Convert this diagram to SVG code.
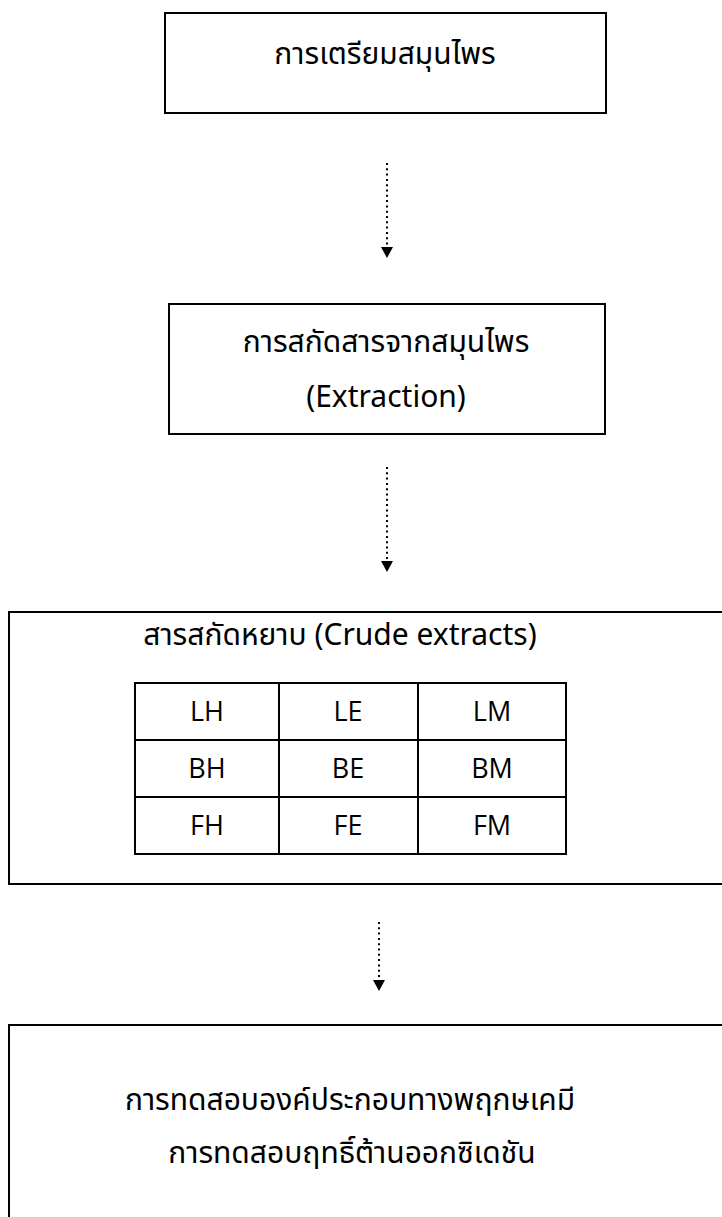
<svg xmlns="http://www.w3.org/2000/svg" width="722" height="1217" viewBox="0 0 722 1217">
<defs>
<style>
.box{fill:#fff;stroke:#000;stroke-width:2}
.tbl{fill:none;stroke:#000;stroke-width:2}
.t{font-family:"Noto Sans Thai","Noto Sans","Open Sans","DejaVu Sans",sans-serif;font-size:30px;font-weight:400;fill:#000;text-anchor:middle}
.c{font-family:"Open Sans","Noto Sans",sans-serif;font-size:27px;fill:#000;text-anchor:middle}
.dot{stroke:#000;stroke-width:2;stroke-dasharray:2 3.3;fill:none}
</style>
</defs>
<rect width="722" height="1217" fill="#fff"/>
<g id="connectors">
<line class="dot" x1="387" y1="163" x2="387" y2="247"/>
<path d="M381,247 L393,247 L387,258 Z" fill="#000"/>
<line class="dot" x1="387" y1="467" x2="387" y2="561"/>
<path d="M381,561 L393,561 L387,572 Z" fill="#000"/>
<line class="dot" x1="379" y1="922" x2="379" y2="980"/>
<path d="M373,980 L385,980 L379,991 Z" fill="#000"/>
</g>
<g id="node-prepare">
<rect class="box" x="165" y="13" width="441" height="100"/>
<text class="t" x="385" y="64">การเตรียมสมุนไพร</text>
</g>
<g id="node-extraction">
<rect class="box" x="169" y="304" width="436" height="130"/>
<text class="t" x="386" y="352">การสกัดสารจากสมุนไพร</text>
<text class="t" x="386" y="407">(Extraction)</text>
</g>
<g id="node-crude">
<rect class="box" x="9" y="612" width="730" height="272"/>
<text class="t" x="340" y="645">สารสกัดหยาบ (Crude extracts)</text>
<rect class="tbl" x="135" y="683" width="431" height="171"/>
<line class="tbl" x1="279" y1="683" x2="279" y2="854"/>
<line class="tbl" x1="418" y1="683" x2="418" y2="854"/>
<line class="tbl" x1="135" y1="740" x2="566" y2="740"/>
<line class="tbl" x1="135" y1="797" x2="566" y2="797"/>
<text class="c" x="207" y="721">LH</text>
<text class="c" x="348" y="721">LE</text>
<text class="c" x="492" y="721">LM</text>
<text class="c" x="207" y="778">BH</text>
<text class="c" x="348" y="778">BE</text>
<text class="c" x="492" y="778">BM</text>
<text class="c" x="207" y="835">FH</text>
<text class="c" x="348" y="835">FE</text>
<text class="c" x="492" y="835">FM</text>
</g>
<g id="node-tests">
<rect class="box" x="9" y="1025" width="730" height="200"/>
<text class="t" x="350" y="1110">การทดสอบองค์ประกอบทางพฤกษเคมี</text>
<text class="t" x="352" y="1163">การทดสอบฤทธิ์ต้านออกซิเดชัน</text>
</g>
</svg>
